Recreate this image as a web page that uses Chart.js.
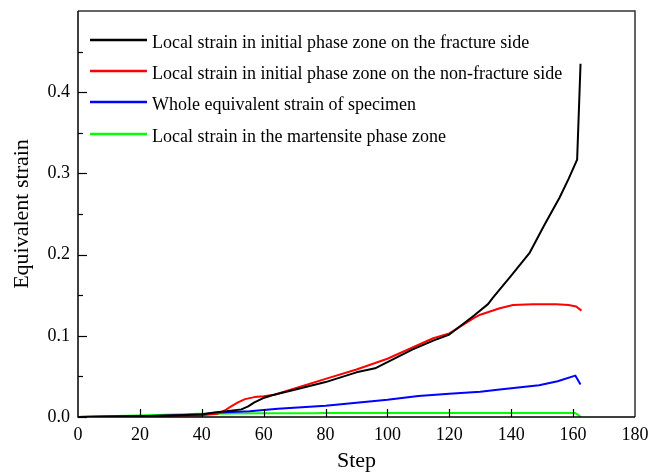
<!DOCTYPE html>
<html>
<head>
<meta charset="utf-8">
<script src="https://cdn.jsdelivr.net/npm/chart.js@4/dist/chart.umd.min.js"></script>
<style>
  html, body { margin: 0; padding: 0; background: #fff; }
  canvas { display: block; }
</style>
</head>
<body>
<canvas id="c" width="650" height="474"></canvas>
<script>
// Equivalent strain vs. step for the four monitored regions
const fractureSteps = [0, 10, 20, 30, 40, 44, 48, 52.8, 55, 57, 59.7, 63, 70, 80, 90, 96, 100, 108, 114.8, 120, 128, 132.5, 134.1, 140, 146, 150.8, 155.6, 158.5, 161.3, 162.4];
const fractureStrain = [0, 0.0005, 0.001, 0.002, 0.003, 0.0055, 0.007, 0.0094, 0.013, 0.018, 0.023, 0.027, 0.0336, 0.043, 0.055, 0.060, 0.0675, 0.083, 0.094, 0.1015, 0.125, 0.139, 0.147, 0.174, 0.2025, 0.237, 0.27, 0.293, 0.317, 0.435];

const nonFractureSteps = [0, 10, 20, 30, 40, 45, 47.4, 49.5, 51.7, 54, 57, 60, 63.5, 70, 80, 90, 100, 114.8, 120, 128, 130, 136.3, 140.6, 147, 154.6, 158.5, 161, 162.7];
const nonFractureStrain = [0, 0.0005, 0.001, 0.0015, 0.002, 0.004, 0.008, 0.013, 0.018, 0.022, 0.0245, 0.0255, 0.0275, 0.035, 0.047, 0.0585, 0.0717, 0.097, 0.103, 0.122, 0.126, 0.134, 0.138, 0.139, 0.139, 0.138, 0.136, 0.131];

const wholeSteps = [0, 10, 20, 30, 40, 46, 55.5, 60, 64.6, 80, 100, 110, 120, 130, 136.3, 149, 155, 160.7, 162.4];
const wholeStrain = [0, 0.0003, 0.001, 0.002, 0.0035, 0.0054, 0.007, 0.0085, 0.0103, 0.014, 0.0213, 0.026, 0.0287, 0.031, 0.034, 0.039, 0.044, 0.051, 0.040];

const martensiteSteps = [0, 19.4, 39.7, 60, 76, 80, 120, 140, 160.5, 161.5, 162.5];
const martensiteStrain = [0, 0.002, 0.004, 0.0045, 0.0045, 0.005, 0.005, 0.005, 0.005, 0.003, 0];

const seriesLabels = [
  'Local strain in initial phase zone on the fracture side',
  'Local strain in initial phase zone on the non-fracture side',
  'Whole equivalent strain of specimen',
  'Local strain in the martensite phase zone'
];
const seriesColors = ['#000000', '#ff0000', '#0000ff', '#00ff00'];

const xTicks = [0, 20, 40, 60, 80, 100, 120, 140, 160, 180];
const yTicks = [0.0, 0.1, 0.2, 0.3, 0.4];

const SERIF = '"Liberation Serif", "Times New Roman", serif';

function toPoints(xs, ys) {
  return xs.map((x, i) => ({ x: x, y: ys[i] }));
}

const seriesData = [
  toPoints(fractureSteps, fractureStrain),
  toPoints(nonFractureSteps, nonFractureStrain),
  toPoints(wholeSteps, wholeStrain),
  toPoints(martensiteSteps, martensiteStrain)
];

// Frame, inward tick marks and the in-plot legend
const framePlugin = {
  id: 'frameAndLegend',
  afterDatasetsDraw(chart) {
    const { ctx, chartArea: a, scales } = chart;
    const xs = scales.x, ys = scales.y;
    ctx.save();
    // frame
    ctx.lineWidth = 1.5;
    ctx.strokeStyle = '#333';
    ctx.beginPath();
    ctx.moveTo(a.left, a.top); ctx.lineTo(a.right, a.top); ctx.lineTo(a.right, a.bottom);
    ctx.stroke();
    ctx.strokeStyle = '#000';
    ctx.beginPath();
    ctx.moveTo(a.left, a.top); ctx.lineTo(a.left, a.bottom); ctx.lineTo(a.right, a.bottom);
    ctx.stroke();
    // y ticks (major + minor), pointing inward
    ctx.lineWidth = 1.2;
    yTicks.forEach(v => {
      const py = Math.round(ys.getPixelForValue(v)) + 0.5;
      ctx.beginPath(); ctx.moveTo(a.left, py); ctx.lineTo(a.left + 9, py); ctx.stroke();
      const pm = Math.round(ys.getPixelForValue(v + 0.05)) + 0.5;
      ctx.beginPath(); ctx.moveTo(a.left, pm); ctx.lineTo(a.left + 5, pm); ctx.stroke();
    });
    // x ticks, pointing inward
    xTicks.forEach(v => {
      if (v === xs.min || v === xs.max) return;
      const px = Math.round(xs.getPixelForValue(v)) + 0.5;
      ctx.beginPath(); ctx.moveTo(px, a.bottom); ctx.lineTo(px, a.bottom - 8); ctx.stroke();
    });
    // legend
    const rowY = [40, 71, 102, 134];
    ctx.font = '18px ' + SERIF;
    ctx.textBaseline = 'alphabetic';
    ctx.textAlign = 'left';
    chart.data.datasets.forEach((ds, i) => {
      const y = rowY[i];
      ctx.strokeStyle = ds.borderColor;
      ctx.lineWidth = 2.5;
      ctx.beginPath(); ctx.moveTo(90, y); ctx.lineTo(147, y); ctx.stroke();
      ctx.fillStyle = '#000';
      ctx.fillText(ds.label, 152, y + 8);
    });
    ctx.restore();
  }
};

new Chart(document.getElementById('c'), {
  type: 'scatter',
  data: {
    datasets: seriesData.map((pts, i) => ({
      label: seriesLabels[i],
      data: pts,
      showLine: true,
      borderColor: seriesColors[i],
      backgroundColor: seriesColors[i],
      borderWidth: 2,
      pointRadius: 0,
      tension: 0,
      borderJoinStyle: 'round',
      fill: false
    }))
  },
  options: {
    responsive: false,
    animation: false,
    devicePixelRatio: 1,
    layout: { padding: { left: 0, right: 15, top: 11, bottom: 0 } },
    plugins: {
      legend: { display: false },
      tooltip: { enabled: false }
    },
    scales: {
      x: {
        type: 'linear',
        min: 0,
        max: 180,
        grid: { display: false, drawTicks: false },
        border: { display: false },
        afterFit(s) { s.height = 57; s.paddingLeft = 0; s.paddingRight = 0; },
        afterBuildTicks(s) { s.ticks = xTicks.map(v => ({ value: v })); },
        ticks: {
          padding: 7,
          color: '#000',
          font: { family: SERIF, size: 18 },
          callback: v => String(v)
        },
        title: {
          display: true,
          text: 'Step',
          color: '#000',
          font: { family: SERIF, size: 22 },
          padding: { top: 0, bottom: 0 }
        }
      },
      y: {
        type: 'linear',
        min: 0,
        max: 0.5,
        grid: { display: false, drawTicks: false },
        border: { display: false },
        afterFit(s) { s.width = 78; s.paddingTop = 0; s.paddingBottom = 0; },
        afterBuildTicks(s) { s.ticks = yTicks.map(v => ({ value: v })); },
        ticks: {
          padding: 8,
          color: '#000',
          font: { family: SERIF, size: 18 },
          callback: v => Number(v).toFixed(1)
        },
        title: {
          display: true,
          text: 'Equivalent strain',
          color: '#000',
          font: { family: SERIF, size: 22 },
          padding: { top: 9, bottom: 0 }
        }
      }
    }
  },
  plugins: [framePlugin]
});
</script>
</body>
</html>
